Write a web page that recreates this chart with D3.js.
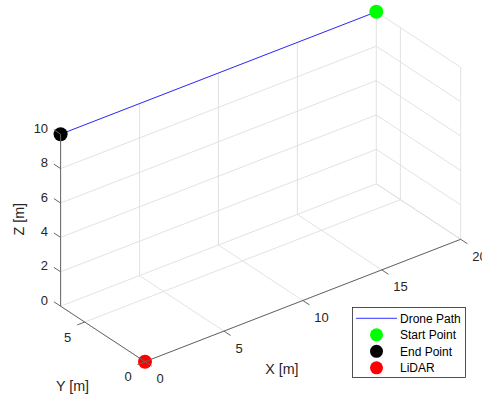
<!DOCTYPE html>
<html>
<head>
<meta charset="utf-8">
<script src="https://cdn.jsdelivr.net/npm/d3@7"></script>
<style>
  body { margin: 0; background: #ffffff; }
  svg { display: block; font-family: "Liberation Sans", Arial, sans-serif; }
</style>
</head>
<body>
<script>
// Chart size
let width = 482;
let height = 394;

// Axis limits and ticks
var xDomain = [0, 20];
var yDomain = [0, 7];
var zDomain = [0, 10];
var xTicks = [0, 5, 10, 15, 20];
var yTicks = [0, 5];
var zTicks = [0, 2, 4, 6, 8, 10];

// Drone path (start -> end) and the LiDAR position
var pathX = [20, 0];
var pathY = [7, 7];
var pathZ = [10, 10];
var lidar = [0, 0, 0];

// Legend
var legendNames = ['Drone Path', 'Start Point', 'End Point', 'LiDAR'];
var legendColors = ['#0000ff', '#00ff00', '#000000', '#ff0000'];

// Screen layout of the 3D box: origin corner and the screen vector of each full axis
var origin = [145, 361.7];
var vecX = [315.7, -122.4];
var vecY = [-84.4, -55.5];
var vecZ = [0, -172];

var xScale = d3.scaleLinear().domain(xDomain).range([0, 1]);
var yScale = d3.scaleLinear().domain(yDomain).range([0, 1]);
var zScale = d3.scaleLinear().domain(zDomain).range([0, 1]);

// Orthographic projection of a data point onto the screen
function proj(x, y, z) {
  let a = xScale(x), b = yScale(y), c = zScale(z);
  return [origin[0] + a * vecX[0] + b * vecY[0] + c * vecZ[0],
          origin[1] + a * vecX[1] + b * vecY[1] + c * vecZ[1]];
}

function unit(v) {
  let l = Math.hypot(v[0], v[1]);
  return [v[0] / l, v[1] / l];
}

var svg = d3.select('body')
            .append('svg')
            .attr('width', width)
            .attr('height', height);

var gridColor = '#dadada';
var axisColor = '#666666';
var textColor = '#262626';

function seg(g, p1, p2, color, w) {
  g.append('line')
    .attr('x1', p1[0]).attr('y1', p1[1])
    .attr('x2', p2[0]).attr('y2', p2[1])
    .attr('stroke', color).attr('stroke-width', w);
}

// Grid on floor, back wall and side wall
var grid = svg.append('g');
var y1 = yDomain[1], x1 = xDomain[1], z1 = zDomain[1];
xTicks.forEach(function(x) {
  seg(grid, proj(x, 0, 0), proj(x, y1, 0), gridColor, 0.8);
  seg(grid, proj(x, y1, 0), proj(x, y1, z1), gridColor, 0.8);
});
yTicks.forEach(function(y) {
  seg(grid, proj(0, y, 0), proj(x1, y, 0), gridColor, 0.8);
  seg(grid, proj(x1, y, 0), proj(x1, y, z1), gridColor, 0.8);
});
zTicks.forEach(function(z) {
  seg(grid, proj(0, y1, z), proj(x1, y1, z), gridColor, 0.8);
  seg(grid, proj(x1, y1, z), proj(x1, 0, z), gridColor, 0.8);
});

// Drone path
var line = d3.line().x(function(d) { return d[0]; }).y(function(d) { return d[1]; });
var pathPts = pathX.map(function(x, i) { return proj(x, pathY[i], pathZ[i]); });
svg.append('path')
  .attr('d', line(pathPts))
  .attr('fill', 'none')
  .attr('stroke', legendColors[0])
  .attr('stroke-width', 0.8);

// Markers: start, end, LiDAR
var markerPts = [
  proj(pathX[0], pathY[0], pathZ[0]),
  proj(pathX[1], pathY[1], pathZ[1]),
  proj(lidar[0], lidar[1], lidar[2])
];
svg.selectAll('circle.mk')
  .data(markerPts)
  .enter()
  .append('circle')
  .attr('class', 'mk')
  .attr('cx', function(d) { return d[0]; })
  .attr('cy', function(d) { return d[1]; })
  .attr('r', 7)
  .attr('fill', function(d, i) { return legendColors[i + 1]; });

// Axis lines
var axes = svg.append('g');
seg(axes, proj(0, 0, 0), proj(x1, 0, 0), axisColor, 1);
seg(axes, proj(0, 0, 0), proj(0, y1, 0), axisColor, 1);
seg(axes, proj(0, y1, 0), proj(0, y1, z1), axisColor, 1);

// Tick marks point away from the box
var tickLen = 8;
var dirX = unit(vecY).map(function(v) { return -v * tickLen; });
var dirY = unit(vecX).map(function(v) { return -v * tickLen; });
var dirZ = unit(vecY).map(function(v) { return v * tickLen; });

xTicks.forEach(function(x) {
  let p = proj(x, 0, 0);
  seg(axes, p, [p[0] + dirX[0], p[1] + dirX[1]], axisColor, 1);
  axes.append('text')
    .attr('x', p[0] + 11.5).attr('y', p[1] + 17)
    .attr('dy', '.35em')
    .attr('font-size', 13)
    .attr('fill', textColor)
    .text(x);
});
yTicks.forEach(function(y) {
  let p = proj(0, y, 0);
  seg(axes, p, [p[0] + dirY[0], p[1] + dirY[1]], axisColor, 1);
  axes.append('text')
    .attr('x', p[0] - 17).attr('y', p[1] + 15)
    .attr('dy', '.35em')
    .attr('text-anchor', 'middle')
    .attr('font-size', 13)
    .attr('fill', textColor)
    .text(y);
});
zTicks.forEach(function(z) {
  let p = proj(0, y1, z);
  seg(axes, p, [p[0] + dirZ[0], p[1] + dirZ[1]], axisColor, 1);
  axes.append('text')
    .attr('x', p[0] - 12.5).attr('y', p[1] - 6)
    .attr('dy', '.35em')
    .attr('text-anchor', 'end')
    .attr('font-size', 13)
    .attr('fill', textColor)
    .text(z);
});

// Axis titles
var xMid = proj(10, 0, 0);
svg.append('text')
  .attr('x', xMid[0] - 21).attr('y', xMid[1] + 68.5).attr('dy', '.35em')
  .attr('text-anchor', 'middle').attr('font-size', 14.3).attr('fill', textColor)
  .text('X [m]');
var yMid = proj(0, 3.5, 0);
svg.append('text')
  .attr('x', yMid[0] - 30.3).attr('y', yMid[1] + 51.6).attr('dy', '.35em')
  .attr('text-anchor', 'middle').attr('font-size', 14.3).attr('fill', textColor)
  .text('Y [m]');
var zMid = proj(0, y1, 5);
svg.append('text')
  .attr('transform', 'translate(' + (zMid[0] - 42) + ',' + (zMid[1] - 1) + ') rotate(-90)')
  .attr('dy', '.35em')
  .attr('text-anchor', 'middle').attr('font-size', 14.3).attr('fill', textColor)
  .text('Z [m]');

// Legend box
var legend = svg.append('g').attr('transform', 'translate(352,307)');
legend.append('rect')
  .attr('x', 0.5).attr('y', 0.5)
  .attr('width', 113).attr('height', 70)
  .attr('fill', '#ffffff')
  .attr('stroke', '#262626')
  .attr('stroke-width', 0.8);

legendNames.forEach(function(name, i) {
  let cy = 11.3 + i * 16.5;
  if (i == 0) {
    legend.append('line')
      .attr('x1', 4).attr('x2', 45).attr('y1', cy).attr('y2', cy)
      .attr('stroke', legendColors[i]).attr('stroke-width', 0.8);
  } else {
    legend.append('circle')
      .attr('cx', 24.5).attr('cy', cy).attr('r', 6.5)
      .attr('fill', legendColors[i]);
  }
  legend.append('text')
    .attr('x', 48).attr('y', cy).attr('dy', '.35em')
    .attr('font-size', 12).attr('fill', '#000000')
    .text(name);
});
</script>
</body>
</html>
